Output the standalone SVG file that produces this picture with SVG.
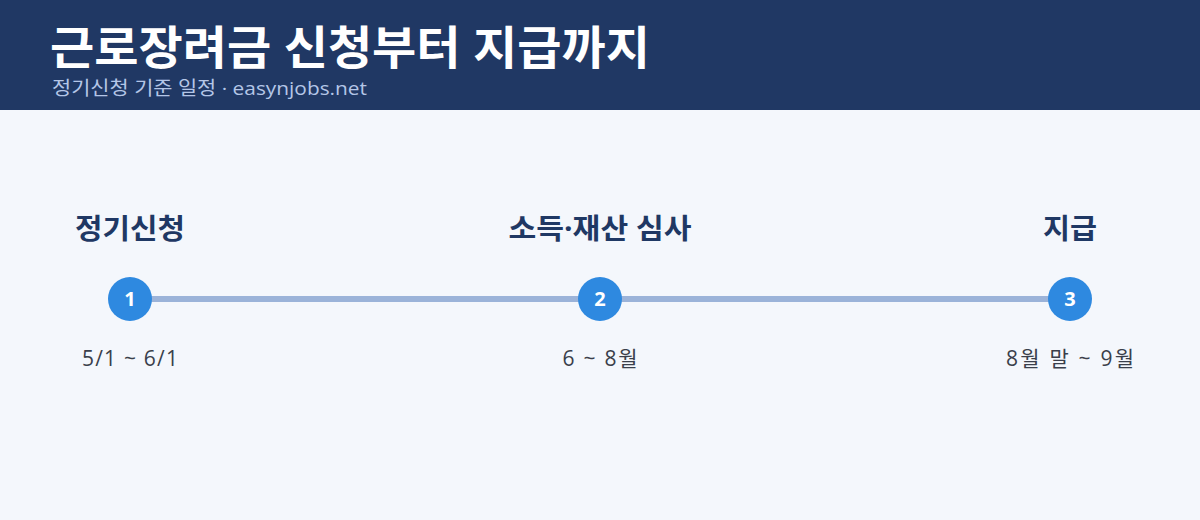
<svg xmlns="http://www.w3.org/2000/svg" width="1200" height="520" viewBox="0 0 1200 520">
<style>
text{font-family:"Open Sans","Noto Sans CJK KR",sans-serif}
.title{font-size:46px;font-weight:700;fill:#ffffff}
.sub{font-size:19px;fill:#b4c6e7}
.lbl{font-size:28px;font-weight:700;fill:#1f3864;text-anchor:middle}
.date{font-size:21px;fill:#3a3f4b;text-anchor:middle}
.dot{fill:#2e89e0}
.num{font-size:20px;font-weight:700;fill:#ffffff;text-anchor:middle}
</style>
<rect x="0" y="0" width="1200" height="520" fill="#f4f7fc"/>
<rect x="0" y="0" width="1200" height="110" fill="#203864"/>
<text class="title" x="50" y="64" textLength="600" lengthAdjust="spacingAndGlyphs">근로장려금 신청부터 지급까지</text>
<text class="sub" x="52" y="95" textLength="315" lengthAdjust="spacingAndGlyphs">정기신청 기준 일정 · easynjobs.net</text>
<g id="connectors">
<line x1="130" y1="299" x2="1070" y2="299" stroke="#9bb3d9" stroke-width="6"/>
</g>
<g id="node1">
<text class="lbl" x="130" y="239" textLength="110" lengthAdjust="spacingAndGlyphs">정기신청</text>
<circle class="dot" cx="130" cy="299" r="22"/>
<text class="num" x="130" y="306">1</text>
<text class="date" x="130" y="366" textLength="96">5/1 ~ 6/1</text>
</g>
<g id="node2">
<text class="lbl" x="600" y="239" textLength="183" lengthAdjust="spacingAndGlyphs">소득·재산 심사</text>
<circle class="dot" cx="600" cy="299" r="22"/>
<text class="num" x="600" y="306">2</text>
<text class="date" x="600" y="366" textLength="75">6 ~ 8월</text>
</g>
<g id="node3">
<text class="lbl" x="1070" y="239" textLength="54" lengthAdjust="spacingAndGlyphs">지급</text>
<circle class="dot" cx="1070" cy="299" r="22"/>
<text class="num" x="1070" y="306">3</text>
<text class="date" x="1070" y="366" textLength="128">8월 말 ~ 9월</text>
</g>
</svg>
